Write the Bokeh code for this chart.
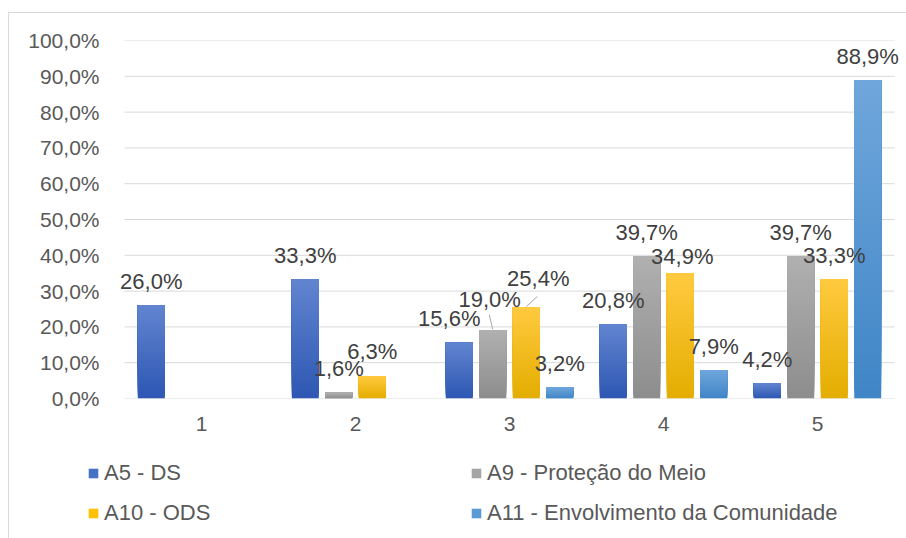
from bokeh.plotting import figure
from bokeh.layouts import column
from bokeh.models import ColumnDataSource, FixedTicker, Legend, LegendItem, Range1d
from bokeh.core.properties import value
from bokeh.embed import file_html
from bokeh.resources import INLINE

# ---- data -------------------------------------------------------------
categories = ["1", "2", "3", "4", "5"]
series_names = ["A5 - DS", "A9 - Proteção do Meio", "A10 - ODS",
                "A11 - Envolvimento da Comunidade"]
a5_ds = [26.0, 33.3, 15.6, 20.8, 4.2]
a9_protecao = [0.0, 1.6, 19.0, 39.7, 39.7]
a10_ods = [0.0, 6.3, 25.4, 34.9, 33.3]
a11_comunidade = [0.0, 0.0, 3.2, 7.9, 88.9]
y_ticks = [0, 10, 20, 30, 40, 50, 60, 70, 80, 90, 100]
y_tick_labels = ["0,0%", "10,0%", "20,0%", "30,0%", "40,0%", "50,0%",
                 "60,0%", "70,0%", "80,0%", "90,0%", "100,0%"]

series_values = [a5_ds, a9_protecao, a10_ods, a11_comunidade]

# ---- styling ----------------------------------------------------------
FONT = "Liberation Sans"
solid_colors = ["#4472C4", "#A5A5A5", "#FFC000", "#5B9BD5"]
grad_top = ["#6285D0", "#B0B0B0", "#FFCA40", "#70A7DC"]
grad_bottom = ["#2D57B3", "#8D8D8D", "#E4AD00", "#3F85C6"]
BAR_W = 0.175
DODGE = [-0.326, -0.109, 0.109, 0.326]
X_START, X_END = 0.5, 5.5   # extent of the plotting area proper
PX_X = 1 / 154.0       # x data units per screen pixel
PX_Y = 100 / 358.0     # y data units per screen pixel
LABEL_DY = -24

# per-label nudges (series index, category index) -> (dx, dy) in pixels
label_nudge = {
    (0, 2): (-10, -24),
    (1, 2): (-3, -31),
    (2, 2): (12, -29),
    (2, 3): (2, -17),
}
# leader lines: (series, category) -> (dx, dy) of the label end, pixels
leaders = {
    (1, 2): (-3.5, -16),
    (2, 2): (11, -11),
}


def hex_rgb(h):
    h = h.lstrip("#")
    return tuple(int(h[i:i + 2], 16) for i in (0, 2, 4))


def blend(c1, c2, t):
    a, b = hex_rgb(c1), hex_rgb(c2)
    return "#%02x%02x%02x" % tuple(round(a[i] + (b[i] - a[i]) * t) for i in range(3))


# the frame reaches a few px past the gridlines so edge labels are not clipped
p = figure(width=898, height=430,
           x_range=Range1d(X_START - 10 * PX_X, X_END + 8 * PX_X),
           y_range=Range1d(0, 100),
           output_backend="svg", toolbar_location=None,
           min_border_left=105, min_border_right=5,
           min_border_top=27, min_border_bottom=45)
p.frame_align = False
p.outline_line_color = None
p.background_fill_color = "white"
p.border_fill_color = "white"

# horizontal gridlines (the 0 line doubles as the category axis line)
p.segment(x0=[X_START] * len(y_ticks), y0=y_ticks,
          x1=[X_END] * len(y_ticks), y1=y_ticks,
          line_color="#D9D9D9", line_width=1)

# gradient-filled bars: each strip runs from its lower edge to the bar top,
# drawn bottom-up so the strips overlap without seams
N = 40
for s, vals in enumerate(series_values):
    left, right, bottom, top, colors = [], [], [], [], []
    for c, v in enumerate(vals):
        if v <= 0:
            continue
        xc = c + 1 + DODGE[s]
        for i in range(N):
            left.append(xc - BAR_W / 2)
            right.append(xc + BAR_W / 2)
            bottom.append(v * i / N)
            top.append(v)
            colors.append(blend(grad_bottom[s], grad_top[s], (i + 0.5) / N))
    p.quad(left="left", right="right", bottom="bottom", top="top",
           fill_color="color", line_color=None,
           source=ColumnDataSource(dict(left=left, right=right, bottom=bottom,
                                        top=top, color=colors)))

# data labels
lx, ly, lt, ldx, ldy = [], [], [], [], []
for s, vals in enumerate(series_values):
    for c, v in enumerate(vals):
        if v <= 0:
            continue
        dx, dy = label_nudge.get((s, c), (0, LABEL_DY))
        lx.append(c + 1 + DODGE[s])
        ly.append(v)
        lt.append(f"{v:.1f}".replace(".", ",") + "%")
        ldx.append(dx)
        ldy.append(dy)
p.text(x="x", y="y", text="t", x_offset="dx", y_offset="dy",
       source=ColumnDataSource(dict(x=lx, y=ly, t=lt, dx=ldx, dy=ldy)),
       text_font=value(FONT), text_font_size="22px", text_color="#404040",
       text_align="center", text_baseline="middle")

# leader lines for the nudged labels
x0, y0, x1, y1 = [], [], [], []
for (s, c), (dx, dy) in leaders.items():
    v = series_values[s][c]
    xc = c + 1 + DODGE[s]
    x0.append(xc)
    y0.append(v + 0.3)
    x1.append(xc + dx * PX_X)
    y1.append(v - dy * PX_Y)
p.segment(x0=x0, y0=y0, x1=x1, y1=y1, line_color="#A6A6A6", line_width=1)

# axes
p.xaxis.ticker = FixedTicker(ticks=[1, 2, 3, 4, 5])
p.xaxis.major_label_overrides = {i + 1: c for i, c in enumerate(categories)}
p.yaxis.ticker = FixedTicker(ticks=y_ticks)
p.yaxis.major_label_overrides = {t: l for t, l in zip(y_ticks, y_tick_labels)}
for ax in (p.xaxis, p.yaxis):
    ax.axis_line_color = None
    ax.major_tick_line_color = None
    ax.minor_tick_line_color = None
    ax.major_label_text_font = FONT
    ax.major_label_text_font_size = "21px"
    ax.major_label_text_color = "#595959"
p.xaxis.major_label_standoff = 12
p.yaxis.major_label_standoff = 9
p.grid.visible = False

# legend strip below the chart (its own frame spans the whole strip)
lg = figure(width=898, height=96, x_range=Range1d(0, 1), y_range=Range1d(0, 1),
            output_backend="svg", toolbar_location=None,
            x_axis_location=None, y_axis_location=None, min_border=0)
lg.frame_align = False
lg.grid.visible = False
lg.outline_line_color = None
swatches = []
for s in range(len(series_names)):
    swatches.append(lg.quad(left=[0], right=[0], bottom=[0], top=[0],
                            fill_color=solid_colors[s], line_color=None))
order = [0, 2, 1, 3]   # two columns, filled row by row
items = [LegendItem(label=series_names[s], renderers=[swatches[s]]) for s in order]
legend = Legend(items=items, ncols=2, location=(78, 13),
                glyph_width=12, glyph_height=12, label_standoff=5,
                label_width=352, label_height=24, spacing=14, padding=0,
                margin=0, border_line_color=None, background_fill_alpha=0,
                label_text_font=FONT, label_text_font_size="22px",
                label_text_color="#595959")
lg.add_layout(legend, "center")

page = column(p, lg, spacing=0, margin=(12, 0, 0, 8))
page.styles = {"border-top": "1px solid #D9D9D9", "border-left": "1px solid #D9D9D9"}

open("out.html", "w").write(file_html(page, INLINE))
